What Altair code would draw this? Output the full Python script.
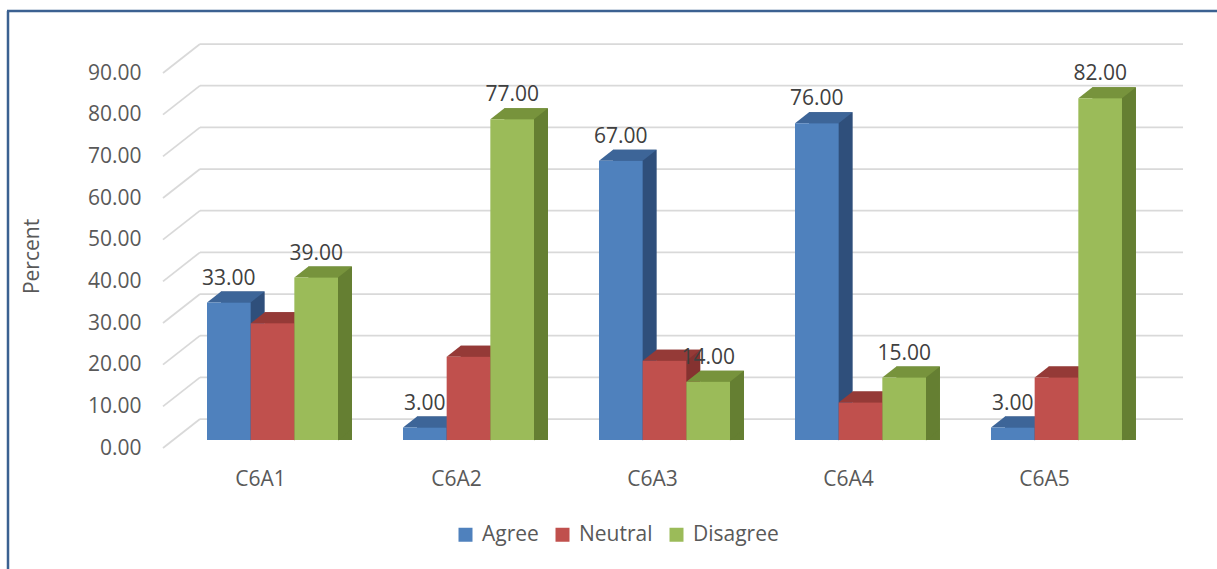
import altair as alt
import pandas as pd

categories = ["C6A1", "C6A2", "C6A3", "C6A4", "C6A5"]
series = ["Agree", "Neutral", "Disagree"]
agree = [33, 3, 67, 76, 3]
neutral = [28, 20, 19, 9, 15]
disagree = [39, 77, 14, 15, 82]
y_ticks = [0, 10, 20, 30, 40, 50, 60, 70, 80, 90]

front_colors = ["#4F81BD", "#C0504D", "#9BBB59"]
top_colors = ["#3D6598", "#953A37", "#77933C"]
side_colors = ["#2F4F7B", "#853230", "#657F32"]

rows = []
for i, c in enumerate(categories):
    for s, vals in zip(series, [agree, neutral, disagree]):
        rows.append({"category": c, "series": s, "value": vals[i]})
df = pd.DataFrame(rows)
grid_df = pd.DataFrame({"tick": y_ticks})
frame_df = pd.DataFrame({"k": [0]})

FONT = "Open Sans"
GRID = "#D9D9D9"
TXT = "#595959"

yscale = alt.Scale(domain=[0, 90], nice=False, zero=True)
xscale = alt.Scale(paddingInner=0.3316, paddingOuter=0.2245)

y_axis = alt.Axis(values=y_ticks, format=".2f", grid=False, domain=False, ticks=False,
                  labelFontSize=21, labelColor=TXT, labelFont=FONT, labelPadding=22,
                  labelOffset=8, title="Percent", titleFont=FONT, titleFontSize=21,
                  titleFontWeight="normal", titleColor=TXT, titleX=-131, titleY=191,
                  titleAngle=270, titleAlign="center", titleBaseline="middle")
x_axis = alt.Axis(title=None, domain=False, ticks=False, grid=False, labelAngle=0,
                  labelFontSize=21, labelColor=TXT, labelFont=FONT, labelPadding=28,
                  labelOffset=-12)

X = alt.X("category:N", sort=categories, scale=xscale, axis=x_axis)
Y = alt.Y("value:Q", scale=yscale, axis=y_axis, stack=None)

base = alt.Chart(df)

frame_left = alt.Chart(frame_df).mark_rule(color="#3B6191", strokeWidth=2.5).encode(
    x=alt.value(-155), y=alt.value(-54), y2=alt.value(520))
frame_top = alt.Chart(frame_df).mark_rule(color="#3B6191", strokeWidth=2.5).encode(
    x=alt.value(-156), x2=alt.value(1070), y=alt.value(-54))

grid_back = alt.Chart(grid_df).mark_rule(color=GRID, strokeWidth=1.75, yOffset=-21).encode(
    y=alt.Y("tick:Q", scale=yscale, axis=y_axis), x=alt.value(37), x2=alt.value(1020))
grid_stub = alt.Chart(grid_df).mark_rule(color=GRID, strokeWidth=1.75, yOffset=8, y2Offset=-21).encode(
    y=alt.Y("tick:Q", scale=yscale, axis=y_axis), y2=alt.Y2("tick:Q"),
    x=alt.value(0), x2=alt.value(37))

side = base.mark_bar(yOffset=-11, y2Offset=-11).encode(
    x=X, y=Y,
    xOffset=alt.XOffset("series:N", sort=series, scale=alt.Scale(domain=series, range=[14, 145])),
    color=alt.Color("series:N", scale=alt.Scale(domain=series, range=side_colors), legend=None),
)

top = base.mark_point(shape="M-21.8,0 L21.8,0 L35.8,-11 L-7.8,-11 Z", size=4, filled=True,
                      opacity=1, strokeWidth=0).encode(
    x=X, y=Y,
    xOffset=alt.XOffset("series:N", sort=series, scale=alt.Scale(domain=series)),
    color=alt.Color("series:N", scale=alt.Scale(domain=series, range=top_colors), legend=None),
)

bottom_tri = base.mark_point(shape="M21.8,-11 L21.8,0.5 L35.8,-11 Z", size=4, filled=True,
                             opacity=1, strokeWidth=0).encode(
    x=X, y=alt.Y("zero:Q", scale=yscale, axis=y_axis),
    xOffset=alt.XOffset("series:N", sort=series, scale=alt.Scale(domain=series)),
    color=alt.Color("series:N", scale=alt.Scale(domain=series, range=side_colors), legend=None),
).transform_calculate(zero="0")

front = base.mark_bar().encode(
    x=X, y=Y,
    xOffset=alt.XOffset("series:N", sort=series, scale=alt.Scale(domain=series)),
    color=alt.Color("series:N", scale=alt.Scale(domain=series, range=front_colors),
                    legend=alt.Legend(title=None, orient="none", legendX=292, legendY=459,
                                      direction="horizontal", symbolType="square",
                                      symbolSize=196, symbolStrokeWidth=0, labelOffset=6,
                                      columnPadding=13, labelFontSize=21, labelFont=FONT,
                                      labelColor=TXT)),
)

labels = base.transform_filter(alt.datum.series != "Neutral").mark_text(
    font=FONT, fontSize=21, color="#404040", baseline="middle", dy=-24).encode(
    x=X, y=Y,
    xOffset=alt.XOffset("series:N", sort=series, scale=alt.Scale(domain=series)),
    text=alt.Text("value:Q", format=".2f"),
)

chart = alt.layer(frame_left, frame_top, grid_back, grid_stub, side, top, bottom_tri, front, labels).resolve_scale(
    xOffset="independent", color="independent"
).properties(
    width=1003, height=375,
    autosize=alt.AutoSizeParams(type="none"),
    padding={"left": 163, "top": 65, "right": 51, "bottom": 129},
    background="white",
).configure_view(stroke=None)

chart.save("out.html", embed_options={"renderer": "svg", "actions": False})
